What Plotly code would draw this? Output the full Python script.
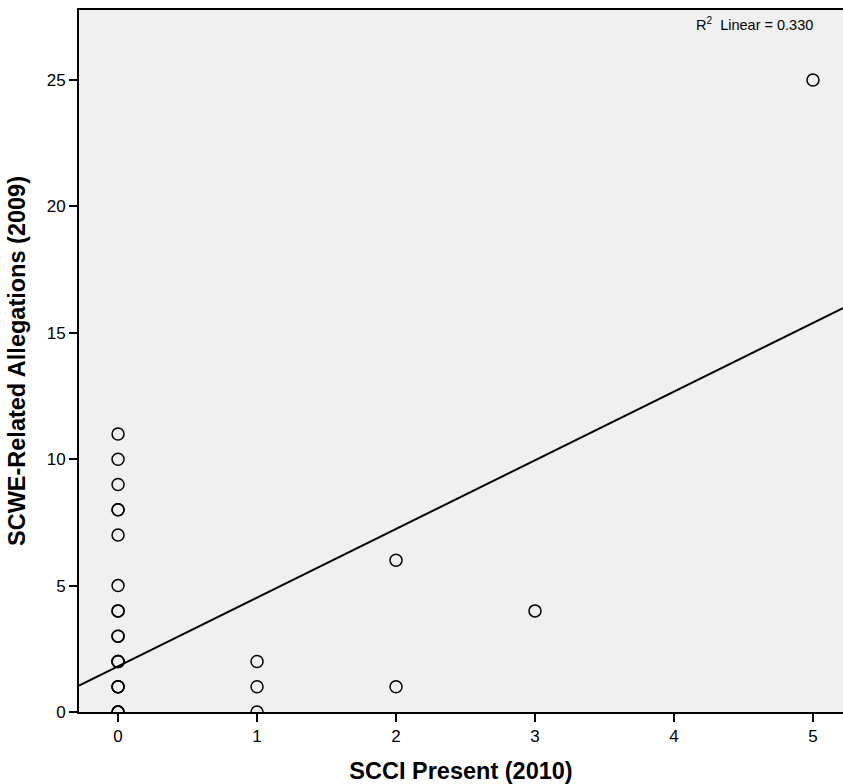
import plotly.graph_objects as go
import numpy as np

# Data (duplicates at x=0 produce the heavier circles)
scci_present = [0]*20 + [1, 1, 1] + [2, 2] + [3] + [5]
allegations = [0, 0, 0, 1, 1, 1, 2, 2, 2, 3, 3, 4, 4, 5, 7, 8, 8, 9, 10, 11,
               0, 1, 2,
               1, 6,
               4,
               25]

fit_intercept = 1.81
fit_slope = 2.716
r2_label = "R<sup>2</sup>  Linear = 0.330"

x_range = [-0.281, 5.216]
y_range = [0, 27.77]
x_ticks = [0, 1, 2, 3, 4, 5]
y_ticks = [0, 5, 10, 15, 20, 25]

fit_x = np.array(x_range)
fit_y = fit_intercept + fit_slope * fit_x

font_family = "Liberation Sans, Arial, sans-serif"

fig = go.Figure()
fig.add_trace(go.Scatter(
    x=fit_x, y=fit_y, mode="lines",
    line=dict(color="black", width=2),
    hoverinfo="skip", showlegend=False,
))
fig.add_trace(go.Scatter(
    x=scci_present, y=allegations, mode="markers",
    marker=dict(symbol="circle-open", size=12, color="black",
                line=dict(color="black", width=1.5)),
    showlegend=False,
))

fig.add_annotation(
    x=5.015, y=27.2, xref="x", yref="y",
    text=r2_label, showarrow=False,
    xanchor="right", yanchor="middle",
    font=dict(family=font_family, size=14.5, color="black"),
)

fig.update_layout(
    width=843, height=784,
    margin=dict(l=79, r=0, t=10, b=72),
    paper_bgcolor="white",
    plot_bgcolor="#F0F0F0",
    font=dict(family=font_family, size=17, color="black"),
)
fig.update_xaxes(
    range=x_range, tickvals=x_ticks, showgrid=False, zeroline=False,
    showline=True, linecolor="black", linewidth=2, mirror=True,
    ticks="outside", ticklen=8, tickwidth=2, tickcolor="black",
    tickfont=dict(size=17),
    title=dict(text="<b>SCCI Present (2010)</b>", font=dict(size=23.5), standoff=18),
)
fig.update_yaxes(
    range=y_range, tickvals=y_ticks, showgrid=False, zeroline=False,
    showline=True, linecolor="black", linewidth=2,
    ticks="outside", ticklen=8, tickwidth=2, tickcolor="black",
    tickfont=dict(size=17),
    title=dict(text="<b>SCWE-Related Allegations (2009)</b>", font=dict(size=23.5), standoff=14),
)

fig.write_html("out.html")
